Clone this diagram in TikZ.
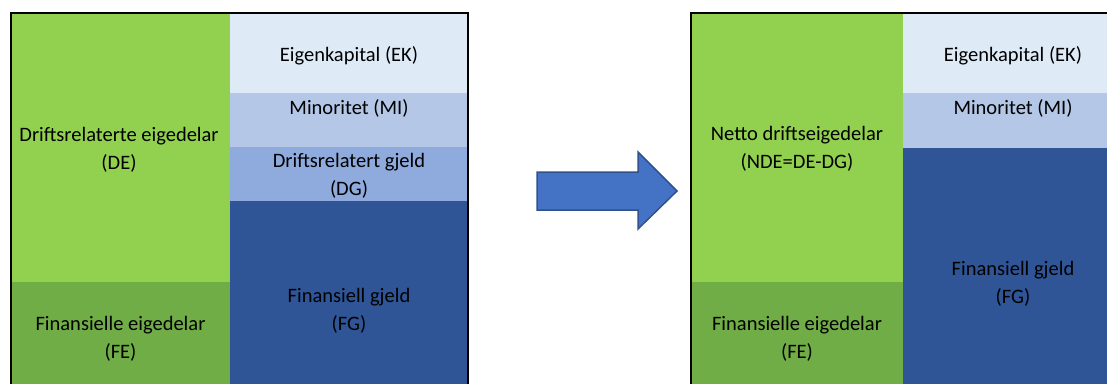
\documentclass[tikz,border=0pt]{standalone}
\usepackage{fontspec}
\setmainfont{Carlito}
\definecolor{opgreen}{HTML}{92D050}
\definecolor{fingreen}{HTML}{70AD47}
\definecolor{ekblue}{HTML}{DEEBF7}
\definecolor{miblue}{HTML}{B4C7E7}
\definecolor{dgblue}{HTML}{8FAADC}
\definecolor{fgblue}{HTML}{2F5597}
\definecolor{arrowfill}{HTML}{4472C4}
\definecolor{arrowline}{HTML}{2F528F}
\begin{document}
\begin{tikzpicture}[x=1pt,y=-1pt,
  % the base anchor of a two-line label sits on its second line
  lbl/.style={anchor=base,align=center,inner sep=0pt,text=black,
    font=\fontsize{20.5}{28}\selectfont},
  frame/.style={draw=black,line width=2pt}]
\useasboundingbox (0,0) rectangle (1107,383);
\clip (0,0) rectangle (1107,383);

% balance before the regrouping
\fill[opgreen]  (11,12.5) rectangle (230,282);
\fill[fingreen] (11,282) rectangle (230,400);
\fill[ekblue]   (230,12.5) rectangle (468,93);
\fill[miblue]   (230,93) rectangle (468,147);
\fill[dgblue]   (230,147) rectangle (468,201);
\fill[fgblue]   (230,201) rectangle (468,400);
\draw[frame] (11,400) -- (11,12.5) -- (468,12.5) -- (468,400);

\node[lbl] (de) at (119,169) {Driftsrelaterte eigedelar\\(DE)};
\node[lbl] (fe) at (120.5,358) {Finansielle eigedelar\\(FE)};
\node[lbl] (ek) at (349,61) {Eigenkapital (EK)};
\node[lbl] (mi) at (349,114) {Minoritet (MI)};
\node[lbl] (dg) at (349,195) {Driftsrelatert gjeld\\(DG)};
\node[lbl] (fg) at (349,330) {Finansiell gjeld\\(FG)};

% block arrow
\draw[fill=arrowfill,draw=arrowline,line width=1.5pt,line join=miter]
  (537,172) -- (638,172) -- (638,152) -- (677,191) -- (638,229)
  -- (638,210) -- (537,210) -- cycle;

% balance after the regrouping
\fill[opgreen]  (691,12.5) rectangle (903,282);
\fill[fingreen] (691,282) rectangle (903,400);
\fill[ekblue]   (903,12.5) rectangle (1125,93);
\fill[miblue]   (903,93) rectangle (1125,148);
\fill[fgblue]   (903,148) rectangle (1125,400);
\draw[frame] (691,400) -- (691,12.5) -- (1125,12.5);

\node[lbl] (nde) at (797,168) {Netto driftseigedelar\\(NDE=DE-DG)};
\node[lbl] (fe2) at (797,358) {Finansielle eigedelar\\(FE)};
\node[lbl] (ek2) at (1013,61) {Eigenkapital (EK)};
\node[lbl] (mi2) at (1013,114) {Minoritet (MI)};
\node[lbl] (fg2) at (1013,303) {Finansiell gjeld\\(FG)};
\end{tikzpicture}
\end{document}
